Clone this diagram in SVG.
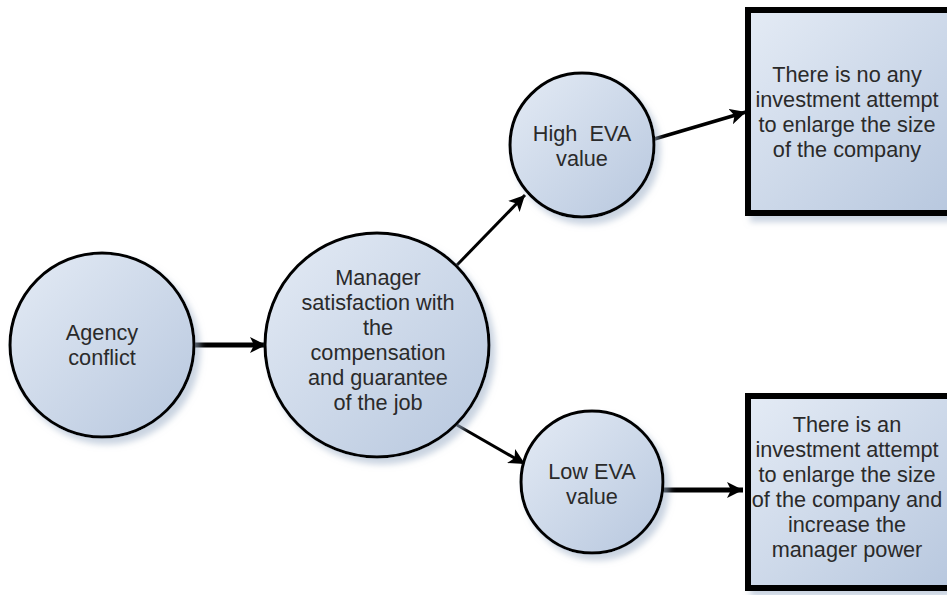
<svg xmlns="http://www.w3.org/2000/svg" width="947" height="595" viewBox="0 0 947 595">
<defs>
<linearGradient id="fill" x1="0" y1="0" x2="1" y2="1">
<stop offset="0" stop-color="#e4ebf5"/>
<stop offset="1" stop-color="#b7c7de"/>
</linearGradient>
<filter id="sh" x="-20%" y="-20%" width="150%" height="150%">
<feDropShadow dx="5" dy="6" stdDeviation="3" flood-color="#9fb0c8" flood-opacity="0.55"/>
</filter>
<marker id="ah" markerUnits="userSpaceOnUse" markerWidth="18" markerHeight="16" refX="16" refY="8" orient="auto">
<path d="M0,0 L16,8 L0,16 L4,8 Z" fill="#000"/>
</marker>
</defs>
<style>
.node{fill:url(#fill);stroke:#000;filter:url(#sh)}
.c{stroke-width:3}
.b{stroke-width:6}
text{font-family:"Liberation Sans",Arial,sans-serif;font-size:21.7px;fill:#2a2a2a;text-anchor:middle}
.e{stroke:#000;fill:none;marker-end:url(#ah)}
</style>
<rect width="947" height="595" fill="#fff"/>
<g id="connectors">
<line class="e" x1="195" y1="345" x2="266" y2="345" stroke-width="5"/>
<line class="e" x1="457" y1="265" x2="525" y2="195" stroke-width="3"/>
<line class="e" x1="457" y1="425" x2="525" y2="464" stroke-width="3"/>
<line class="e" x1="651" y1="140" x2="746" y2="112" stroke-width="3.5"/>
<line class="e" x1="662" y1="490" x2="743" y2="490" stroke-width="5"/>
</g>
<g id="agency">
<circle class="node c" cx="102" cy="345" r="92"/>
<text x="102" y="340">Agency</text>
<text x="102" y="365">conflict</text>
</g>
<g id="manager">
<circle class="node c" cx="377" cy="345" r="112"/>
<text x="378" y="285">Manager</text>
<text x="378" y="310">satisfaction with</text>
<text x="378" y="335">the</text>
<text x="378" y="360">compensation</text>
<text x="378" y="385">and guarantee</text>
<text x="378" y="410">of the job</text>
</g>
<g id="high">
<circle class="node c" cx="582" cy="145" r="72"/>
<text x="582" y="141" xml:space="preserve">High  EVA</text>
<text x="582" y="166">value</text>
</g>
<g id="low">
<circle class="node c" cx="592" cy="482" r="71"/>
<text x="592" y="479">Low EVA</text>
<text x="592" y="504">value</text>
</g>
<g id="box1">
<rect class="node b" x="748" y="10" width="210" height="203"/>
<text x="847" y="82">There is no any</text>
<text x="847" y="107">investment attempt</text>
<text x="847" y="132">to enlarge the size</text>
<text x="847" y="157">of the company</text>
</g>
<g id="box2">
<rect class="node b" x="748" y="396" width="210" height="192"/>
<text x="847" y="432">There is an</text>
<text x="847" y="457">investment attempt</text>
<text x="847" y="482">to enlarge the size</text>
<text x="847" y="507">of the company and</text>
<text x="847" y="532">increase the</text>
<text x="847" y="557">manager power</text>
</g>
</svg>
